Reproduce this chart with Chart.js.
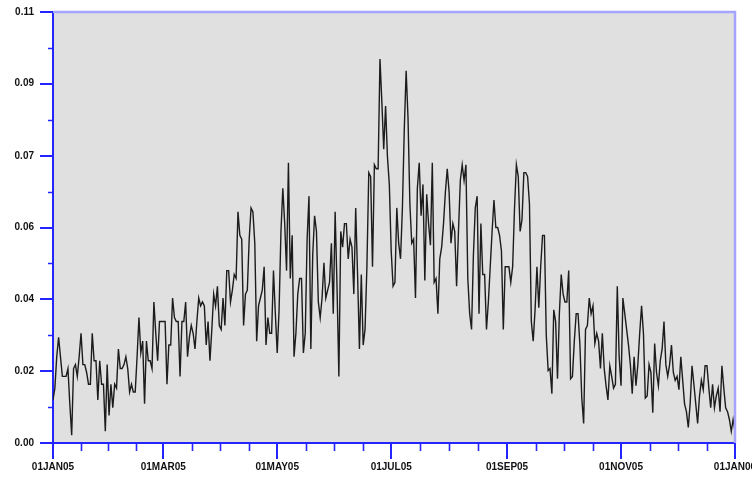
<!DOCTYPE html>
<html>
<head>
<meta charset="utf-8">
<script src="https://cdn.jsdelivr.net/npm/chart.js@4.4.1/dist/chart.umd.min.js"></script>
<style>
  html, body { margin: 0; padding: 0; background: #ffffff; overflow: hidden; }
  #wrap { width: 752px; height: 478px; }
</style>
</head>
<body>
<div id="wrap"><canvas id="chartDaily"></canvas></div>
<script>
// daily values, 01JAN05 .. 31DEC05 (index = day of year)
const dailyValues = [
  0.011, 0.014, 0.022, 0.027, 0.022, 0.017, 0.017, 0.017, 0.019, 0.010,
  0.002, 0.019, 0.020, 0.017, 0.022, 0.028, 0.020, 0.020, 0.018, 0.015,
  0.015, 0.028, 0.021, 0.021, 0.011, 0.021, 0.015, 0.015, 0.003, 0.020,
  0.007, 0.015, 0.009, 0.015, 0.014, 0.024, 0.019, 0.019, 0.020, 0.022,
  0.019, 0.013, 0.015, 0.013, 0.013, 0.022, 0.032, 0.023, 0.026, 0.010,
  0.026, 0.021, 0.021, 0.019, 0.036, 0.028, 0.021, 0.031, 0.031, 0.031,
  0.031, 0.015, 0.025,
  0.025, 0.037, 0.032, 0.031, 0.031, 0.017, 0.031, 0.031, 0.036, 0.022,
  0.027, 0.030, 0.028, 0.024, 0.031, 0.037, 0.035, 0.036, 0.035, 0.025,
  0.031, 0.021, 0.029, 0.038, 0.035, 0.040, 0.030, 0.029, 0.037, 0.030,
  0.044, 0.044, 0.036, 0.039, 0.043, 0.042, 0.059, 0.053, 0.052, 0.030,
  0.038, 0.039, 0.052, 0.060, 0.059, 0.051, 0.026, 0.035, 0.037, 0.039,
  0.045, 0.025, 0.032, 0.028, 0.028, 0.044, 0.033, 0.023,
  0.034, 0.054, 0.065, 0.056, 0.044, 0.0715, 0.042, 0.053, 0.022, 0.028,
  0.038, 0.042, 0.042, 0.023, 0.028, 0.052, 0.063, 0.024, 0.048, 0.058,
  0.054, 0.036, 0.032, 0.037, 0.046, 0.037, 0.039, 0.041, 0.051, 0.033,
  0.059, 0.040, 0.017, 0.054, 0.050, 0.056, 0.056, 0.047, 0.052, 0.050,
  0.038, 0.060, 0.043, 0.024, 0.043, 0.025, 0.029, 0.045, 0.069, 0.068,
  0.045, 0.071,
  0.070, 0.070, 0.098, 0.087, 0.075, 0.086, 0.073, 0.066, 0.049, 0.040,
  0.041, 0.060, 0.051, 0.047, 0.060, 0.080, 0.095, 0.083, 0.061, 0.051,
  0.052, 0.037, 0.065, 0.0715, 0.058, 0.066, 0.0415, 0.0635, 0.056, 0.0505,
  0.0715, 0.041, 0.042, 0.033, 0.047, 0.050, 0.056, 0.064, 0.070, 0.064,
  0.051, 0.056, 0.054, 0.040, 0.054, 0.067, 0.071, 0.067, 0.071, 0.042,
  0.033, 0.029, 0.048, 0.060, 0.063, 0.033, 0.056, 0.043, 0.043, 0.029,
  0.036, 0.045, 0.054,
  0.062, 0.055, 0.055, 0.053, 0.049, 0.029, 0.045, 0.045, 0.045, 0.041,
  0.045, 0.060, 0.071, 0.068, 0.054, 0.057, 0.069, 0.069, 0.068, 0.061,
  0.031, 0.026, 0.034, 0.045, 0.0345, 0.045, 0.053, 0.053, 0.0274, 0.0185,
  0.019, 0.0126, 0.034, 0.031, 0.0164, 0.033, 0.043, 0.038, 0.036, 0.036,
  0.044, 0.0164, 0.017, 0.026, 0.033, 0.033, 0.025, 0.0115, 0.005, 0.029,
  0.030, 0.037, 0.033, 0.035, 0.0254, 0.028, 0.026, 0.019, 0.028, 0.019,
  0.0146, 0.011,
  0.0197, 0.017, 0.014, 0.015, 0.040, 0.022, 0.0146,
  0.037, 0.033, 0.029, 0.025, 0.020, 0.0126, 0.022, 0.0146, 0.020, 0.028,
  0.035, 0.028, 0.0115, 0.012, 0.020, 0.018, 0.0077, 0.0254, 0.018, 0.0146,
  0.021, 0.024, 0.031, 0.020, 0.017, 0.020, 0.025, 0.018, 0.016, 0.017,
  0.0136, 0.022, 0.016, 0.010, 0.008, 0.004, 0.010, 0.0197, 0.015, 0.010,
  0.005, 0.012, 0.016, 0.0136, 0.0197, 0.0197, 0.014, 0.009, 0.015, 0.009,
  0.012, 0.014, 0.008, 0.0197, 0.014, 0.009, 0.008, 0.006, 0.003, 0.006,
  0.003
];

// x axis: major ticks (day of year) and labels
const xTickDays = [0, 59, 120, 181, 243, 304, 365];
const xTickLabels = ['01JAN05', '01MAR05', '01MAY05', '01JUL05', '01SEP05', '01NOV05', '01JAN06'];

// y axis: 0 .. 0.11 in six steps, labels as printed
const yTickValues = [0, 0.0183, 0.0367, 0.055, 0.0733, 0.0917, 0.11];
const yTickLabels = ['0.00', '0.02', '0.04', '0.06', '0.07', '0.09', '0.11'];

const axisBlue = '#2424ff';
const frameBlue = '#a4a4ff';

const frameAndMinorTicks = {
  id: 'frameAndMinorTicks',
  beforeDraw(chart) {
    const { ctx, chartArea: a } = chart;
    ctx.save();
    ctx.fillStyle = '#e0e0e0';
    ctx.fillRect(a.left, a.top, a.right - a.left, a.bottom - a.top);
    ctx.restore();
  },
  afterDraw(chart) {
    const { ctx, chartArea: a } = chart;
    const xs = chart.scales.x;
    const ys = chart.scales.y;
    ctx.save();
    // top / right frame
    ctx.strokeStyle = frameBlue;
    ctx.lineWidth = 2.5;
    ctx.beginPath();
    ctx.moveTo(a.left, a.top);
    ctx.lineTo(a.right, a.top);
    ctx.lineTo(a.right, a.bottom);
    ctx.stroke();

    ctx.strokeStyle = axisBlue;
    ctx.lineWidth = 1.6;
    ctx.beginPath();
    // x minor ticks: three between majors
    for (let i = 0; i < xTickDays.length - 1; i++) {
      const d0 = xTickDays[i], d1 = xTickDays[i + 1];
      for (let k = 1; k < 4; k++) {
        const px = Math.round(xs.getPixelForValue(d0 + (d1 - d0) * k / 4)) + 0.5;
        ctx.moveTo(px, a.bottom);
        ctx.lineTo(px, a.bottom + 8);
      }
    }
    // y minor ticks: one between majors
    for (let i = 0; i < yTickValues.length - 1; i++) {
      const py = Math.round(ys.getPixelForValue((yTickValues[i] + yTickValues[i + 1]) / 2)) + 0.5;
      ctx.moveTo(a.left - 5, py);
      ctx.lineTo(a.left, py);
    }
    ctx.stroke();
    ctx.restore();
  }
};

const ctx = document.getElementById('chartDaily').getContext('2d');
new Chart(ctx, {
  type: 'line',
  data: {
    datasets: [{
      data: dailyValues.map((v, i) => ({ x: i, y: v })),
      borderColor: '#1c1c1c',
      borderWidth: 1.4,
      pointRadius: 0,
      tension: 0,
      fill: false,
    }],
  },
  options: {
    responsive: true,
    maintainAspectRatio: false,
    animation: false,
    layout: { autoPadding: false, padding: { top: 12, right: 17, left: 0, bottom: 0 } },
    plugins: {
      legend: { display: false },
      tooltip: { enabled: false },
    },
    scales: {
      x: {
        type: 'linear',
        min: 0,
        max: 365,
        afterBuildTicks: (scale) => { scale.ticks = xTickDays.map(v => ({ value: v })); },
        afterFit: (scale) => {
          scale.height = 35;
          scale.paddingLeft = 0;
          scale.paddingRight = 0;
        },
        border: { display: true, color: axisBlue, width: 2 },
        grid: { display: true, drawOnChartArea: false, drawTicks: true, tickLength: 16, color: axisBlue, lineWidth: 2 },
        ticks: {
          autoSkip: false,
          maxRotation: 0,
          padding: 2,
          color: '#111111',
          font: { family: 'Liberation Sans', size: 10, weight: 'bold' },
          callback: (v, i) => xTickLabels[i],
        },
      },
      y: {
        type: 'linear',
        min: 0,
        max: 0.11,
        afterBuildTicks: (scale) => { scale.ticks = yTickValues.map(v => ({ value: v })); },
        afterFit: (scale) => {
          scale.width = 53;
          scale.paddingTop = 0;
          scale.paddingBottom = 0;
        },
        border: { display: true, color: axisBlue, width: 2 },
        grid: { display: true, drawOnChartArea: false, drawTicks: true, tickLength: 13, color: axisBlue, lineWidth: 2 },
        ticks: {
          padding: 6,
          color: '#111111',
          font: { family: 'Liberation Sans', size: 10, weight: 'bold' },
          callback: (v, i) => yTickLabels[i],
        },
      },
    },
  },
  plugins: [frameAndMinorTicks],
});
</script>
</body>
</html>
